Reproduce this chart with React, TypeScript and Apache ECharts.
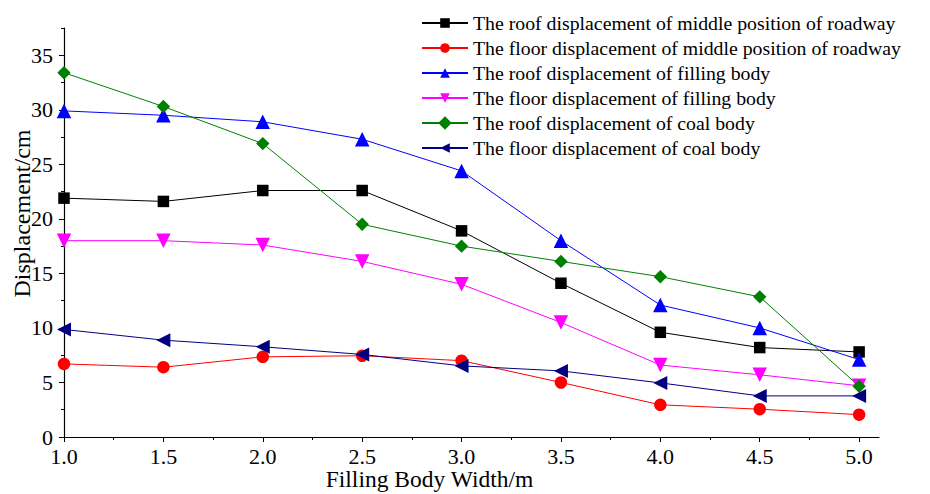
import React, { useEffect, useRef } from "react";
import * as echarts from "echarts";

const widths = [1.0, 1.5, 2.0, 2.5, 3.0, 3.5, 4.0, 4.5, 5.0];
const roofMiddle = [21.9, 21.6, 22.6, 22.6, 18.9, 14.1, 9.6, 8.2, 7.8];
const floorMiddle = [6.7, 6.4, 7.35, 7.45, 7.0, 5.0, 2.95, 2.55, 2.05];
const roofFilling = [29.9, 29.5, 28.9, 27.3, 24.4, 18.0, 12.1, 10.0, 7.1];
const floorFilling = [18.0, 18.0, 17.6, 16.1, 14.0, 10.5, 6.6, 5.7, 4.7];
const roofCoal = [33.4, 30.3, 26.9, 19.5, 17.5, 16.1, 14.7, 12.85, 4.65];
const floorCoal = [9.86, 8.88, 8.27, 7.57, 6.52, 6.06, 4.96, 3.77, 3.77];

const xMajor = [1.0, 1.5, 2.0, 2.5, 3.0, 3.5, 4.0, 4.5, 5.0];
const xMinor = [1.25, 1.75, 2.25, 2.75, 3.25, 3.75, 4.25, 4.75];
const yMajor = [0, 5, 10, 15, 20, 25, 30, 35];
const yMinor = [2.5, 7.5, 12.5, 17.5, 22.5, 27.5, 32.5, 37.5];

const seriesNames = [
  "The roof displacement of middle position of roadway",
  "The floor displacement of middle position of roadway",
  "The roof displacement of filling body",
  "The floor displacement of filling body",
  "The roof displacement of coal body",
  "The floor displacement of coal body",
];

const FONT = "Liberation Serif";
const labelRich = { t: { fontFamily: FONT, fontSize: 22, color: "#000" } };

export default function App() {
  const ref = useRef<HTMLDivElement>(null);
  useEffect(() => {
    if (!ref.current) return;
    const chart = echarts.init(ref.current, undefined, { renderer: "svg" });
    const pair = (arr: number[]) => widths.map((w, i) => [w, arr[i]]);
    const defs = [
      { data: roofMiddle, color: "#000000", symbol: "rect", size: 11.5, rotate: 0 },
      { data: floorMiddle, color: "#ff0000", symbol: "circle", size: 12.5, rotate: 0 },
      { data: roofFilling, color: "#0000ff", symbol: "triangle", size: 14.5, rotate: 0 },
      { data: floorFilling, color: "#ff00ff", symbol: "triangle", size: 14.5, rotate: 180 },
      { data: roofCoal, color: "#008000", symbol: "rect", size: 9.5, rotate: 45 },
      { data: floorCoal, color: "#000080", symbol: "triangle", size: 14, rotate: 90 },
    ];
    chart.setOption({
      animation: false,
      backgroundColor: "#ffffff",
      textStyle: { fontFamily: FONT },
      grid: {
        left: 64,
        right: 51,
        top: 28,
        bottom: 57,
        containLabel: false,
        outerBoundsMode: "none",
      },
      legend: {
        orient: "vertical",
        left: 416,
        top: 8,
        itemWidth: 46,
        itemHeight: 12,
        itemGap: 5,
        textStyle: { fontFamily: FONT, fontSize: 19.8, color: "#000" },
        data: seriesNames,
      },
      xAxis: [
        {
          type: "value",
          min: 1.0,
          max: 5.1,
          interval: 0.5,
          name: "Filling Body Width/m",
          nameLocation: "middle",
          nameGap: 30,
          nameMoveOverlap: false,
          nameTextStyle: { fontFamily: FONT, fontSize: 23.5, color: "#000", padding: [0, 84, 0, 0] },
          axisLine: { show: true, lineStyle: { color: "#000", width: 1.2 } },
          axisTick: { show: true, inside: false, length: 5, customValues: xMajor, lineStyle: { color: "#000" } },
          axisLabel: {
            showMaxLabel: false,
            margin: 8,
            fontFamily: FONT,
            fontSize: 22,
            color: "#000",
            rich: labelRich,
            formatter: (v: number) =>
              Math.abs(v * 2 - Math.round(v * 2)) < 1e-6 ? "{t|" + v.toFixed(1) + "}" : "",
          },
          splitLine: { show: false },
        },
        {
          type: "value",
          min: 1.0,
          max: 5.1,
          position: "bottom",
          axisLine: { show: false },
          axisTick: { show: true, length: 3, customValues: xMinor, lineStyle: { color: "#000" } },
          axisLabel: { show: false },
          splitLine: { show: false },
        },
      ],
      yAxis: [
        {
          type: "value",
          min: 0,
          max: 37.5,
          interval: 5,
          name: "Displacement/cm",
          nameLocation: "middle",
          nameGap: 30,
          nameMoveOverlap: false,
          nameTextStyle: { fontFamily: FONT, fontSize: 24, color: "#000", padding: [0, 0, 0, 38] },
          axisLine: { show: true, lineStyle: { color: "#000", width: 1.2 } },
          axisTick: { show: true, length: 5, customValues: yMajor, lineStyle: { color: "#000" } },
          axisLabel: {
            showMaxLabel: false,
            margin: 11,
            fontFamily: FONT,
            fontSize: 22,
            color: "#000",
            rich: labelRich,
            formatter: (v: number) => (v % 5 === 0 ? "{t|" + String(v) + "}" : ""),
          },
          splitLine: { show: false },
        },
        {
          type: "value",
          min: 0,
          max: 37.5,
          position: "left",
          axisLine: { show: false },
          axisTick: { show: true, length: 3, customValues: yMinor, lineStyle: { color: "#000" } },
          axisLabel: { show: false },
          splitLine: { show: false },
        },
      ],
      series: defs.map((d, i) => ({
        name: seriesNames[i],
        type: "line",
        data: pair(d.data),
        symbol: d.symbol,
        symbolSize: d.size,
        symbolRotate: d.rotate,
        showAllSymbol: true,
        lineStyle: { color: d.color, width: 1 },
        itemStyle: { color: d.color },
        emphasis: { disabled: true },
      })),
    });
    return () => chart.dispose();
  }, []);
  return <div ref={ref} style={{ width: 930, height: 494, position: "absolute", left: 0, top: 0 }} />;
}
